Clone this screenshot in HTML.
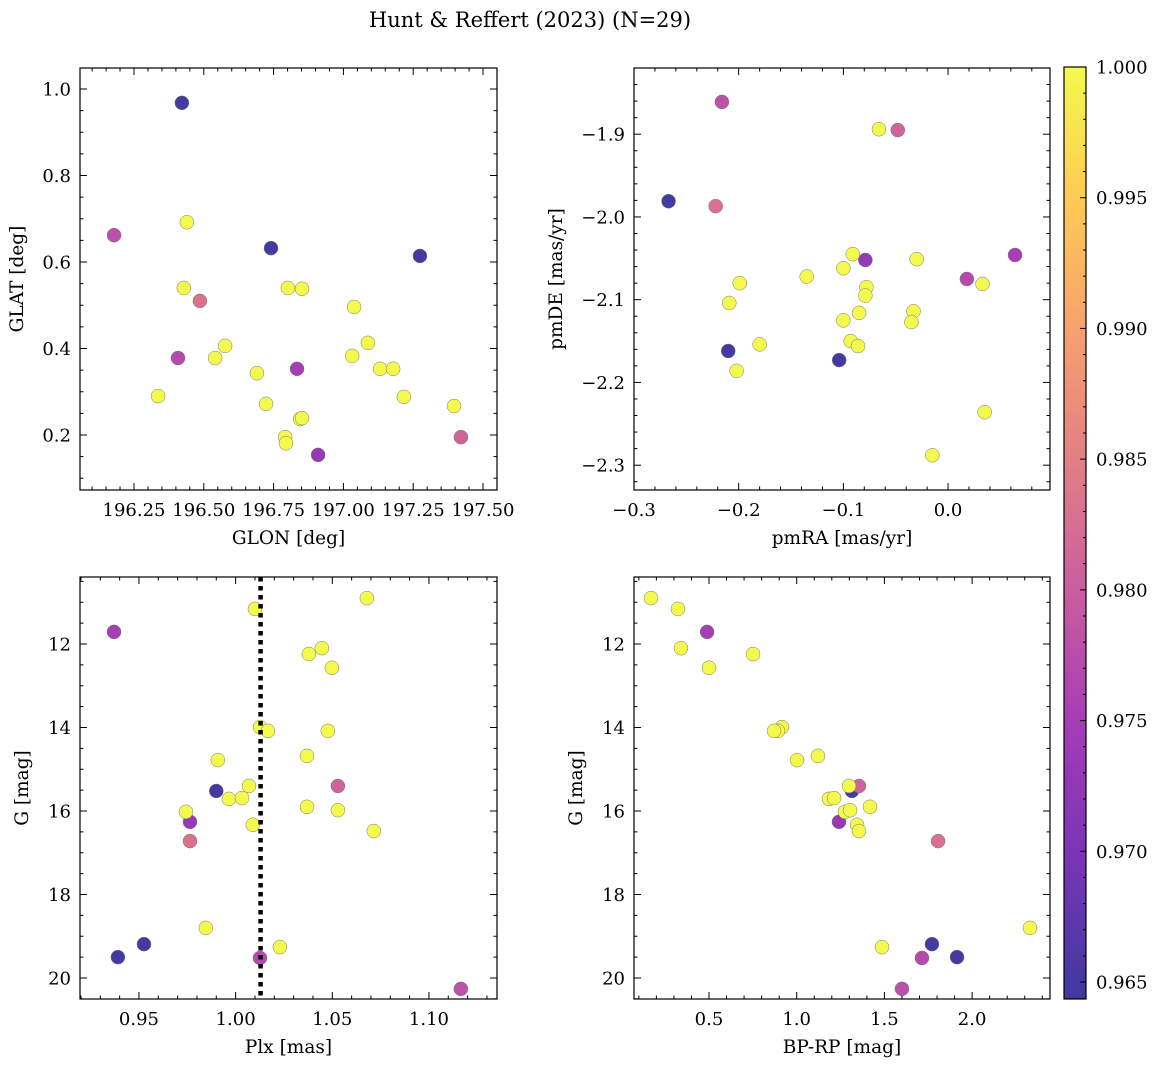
<!DOCTYPE html>
<html><head><meta charset="utf-8"><style>
body{margin:0;background:#fff;}
svg text{font-family:"DejaVu Serif","Liberation Serif",serif;fill:#000;}
</style></head><body>
<svg id="fig" width="1161" height="1067" viewBox="0 0 1161 1067" xmlns="http://www.w3.org/2000/svg">
<rect width="1161" height="1067" fill="#fff"/>
<text x="530" y="27" font-size="21" text-anchor="middle">Hunt &amp; Reffert (2023) (N=29)</text>
</svg>
<script>
const prob = [0.965,0.965,0.965,0.983,0.981,0.978,0.977,0.975,0.973,1,1,1,1,1,1,1,1,1,1,1,1,1,1,1,1,1,1,1,1];
const glon = [196.4215,196.7407,197.2741,196.486,197.4208,196.1786,196.4076,196.8339,196.9093,
196.4394,196.4285,196.8012,196.8518,197.0382,196.5405,196.5762,197.0312,197.0877,197.1314,197.178,196.6902,196.3363,196.7229,197.2166,197.3961,196.8448,196.8518,196.7913,196.7943];
const glat = [0.968,0.632,0.614,0.510,0.195,0.662,0.378,0.353,0.154,
0.692,0.540,0.540,0.538,0.496,0.378,0.406,0.383,0.413,0.353,0.353,0.343,0.290,0.272,0.288,0.267,0.237,0.239,0.195,0.181];
const pmra = [-0.267,-0.210,-0.104,-0.222,-0.048,-0.216,0.018,0.064,-0.079,
-0.066,-0.135,-0.209,-0.199,-0.091,-0.100,-0.030,0.033,-0.078,-0.079,-0.085,-0.100,-0.033,-0.035,-0.093,-0.086,-0.180,-0.202,0.035,-0.015];
const pmde = [-1.981,-2.162,-2.173,-1.987,-1.895,-1.861,-2.075,-2.046,-2.052,
-1.894,-2.072,-2.104,-2.080,-2.045,-2.062,-2.051,-2.081,-2.085,-2.095,-2.116,-2.125,-2.114,-2.127,-2.150,-2.156,-2.154,-2.186,-2.236,-2.288];
const plx = [0.990,0.9526,0.9391,0.9764,1.0529,1.1165,1.0126,0.9371,0.9764,
1.0679,1.0100,1.0446,1.0379,1.0498,1.0126,1.0167,1.0477,0.9908,1.0369,1.0069,0.9965,1.0033,1.0369,0.9743,1.0529,1.0089,1.0715,0.9846,1.0229];
const gmag = [15.52,19.19,19.50,16.72,15.40,20.26,19.52,11.71,16.26,
10.90,11.16,12.10,12.24,12.57,13.99,14.08,14.08,14.78,14.68,15.40,15.71,15.69,15.90,16.02,15.98,16.33,16.48,18.80,19.26];
const bprp = [1.315,1.771,1.914,1.806,1.355,1.600,1.714,0.489,1.241,
0.169,0.323,0.340,0.751,0.500,0.916,0.893,0.871,1.002,1.121,1.298,1.184,1.213,1.418,1.275,1.304,1.344,1.355,2.330,1.486];
const plxRef = 1.0129;
const cbTicks = [0.965,0.970,0.975,0.980,0.985,0.990,0.995,1.000];

const NS="http://www.w3.org/2000/svg";
const svg=document.getElementById('fig');
function mk(tag,attrs,parent){const e=document.createElementNS(NS,tag);for(const k in attrs)e.setAttribute(k,attrs[k]);(parent||svg).appendChild(e);return e;}
const stops=[[13,8,135],[84,2,163],[139,10,165],[185,50,137],[219,92,104],[244,136,73],[254,188,43],[240,249,33]];
function plasma(t){t=Math.max(0,Math.min(1,t));const s=t*(stops.length-1);const i=Math.min(stops.length-2,Math.floor(s));const f=s-i;
const c=stops[i].map((v,k)=>v+(stops[i+1][k]-v)*f).map(v=>Math.round(v*0.8+255*0.2));return `rgb(${c[0]},${c[1]},${c[2]})`;}
const cmin=0.96435,cmax=1.0;
function col(p){return plasma((p-cmin)/(cmax-cmin));}
const FS=18, LS=18.5;
function fmtMinus(s){return s.replace('-','\u2212');}

function panel(o){
  const g=mk('g',{});
  
  
  const X=v=>o.x0+(v-o.xmin)/(o.xmax-o.xmin)*(o.x1-o.x0);
  const Y=o.yinv?(v=>o.y0+(v-o.ymin)/(o.ymax-o.ymin)*(o.y1-o.y0)):(v=>o.y1-(v-o.ymin)/(o.ymax-o.ymin)*(o.y1-o.y0));
  const pts=mk('g',{},g);
  
  
  for(let i=0;i<o.xs.length;i++){
    const c=mk('circle',{cx:X(o.xs[i]),cy:Y(o.ys[i]),r:7,fill:col(prob[i]),stroke:'#777','stroke-width':0.5},pts);
    
    
  }
  if(o.vline!==undefined){const l=mk('line',{x1:X(o.vline),x2:X(o.vline),y1:o.y0,y2:o.y1,stroke:'#000','stroke-width':4.5,'stroke-dasharray':'4.5,4.5'},g);
    
    }
  mk('rect',{x:o.x0,y:o.y0,width:o.x1-o.x0,height:o.y1-o.y0,fill:'none',stroke:'#000','stroke-width':1.2},g);
  const tk=mk('g',{stroke:'#000','stroke-width':1},g);
  for(let k=Math.ceil(o.xmin/o.xminor-1e-9);k*o.xminor<=o.xmax+1e-9;k++){
    const v=k*o.xminor;const px=X(v);const major=Math.abs(v/o.xmajor-Math.round(v/o.xmajor))<1e-6;const L=major?7:3.5;
    mk('line',{x1:px,x2:px,y1:o.y1,y2:o.y1-L},tk);mk('line',{x1:px,x2:px,y1:o.y0,y2:o.y0+L},tk);
    if(major){const t=mk('text',{x:px,y:o.y1+26,'font-size':FS,'text-anchor':'middle'},g);t.textContent=fmtMinus(o.xfmt(v));
      }
  }
  for(let k=Math.ceil(o.ymin/o.yminor-1e-9);k*o.yminor<=o.ymax+1e-9;k++){
    const v=k*o.yminor;const py=Y(v);const major=Math.abs(v/o.ymajor-Math.round(v/o.ymajor))<1e-6;const L=major?7:3.5;
    mk('line',{x1:o.x0,x2:o.x0+L,y1:py,y2:py},tk);mk('line',{x1:o.x1,x2:o.x1-L,y1:py,y2:py},tk);
    if(major){const t=mk('text',{x:o.x0-9,y:py+6.5,'font-size':FS,'text-anchor':'end'},g);t.textContent=fmtMinus(o.yfmt(v));
      }
  }
  const xl=mk('text',{x:(o.x0+o.x1)/2,y:o.y1+54,'font-size':LS,'text-anchor':'middle'},g);xl.textContent=o.xlabel;
  
  const ly=(o.y0+o.y1)/2;const yl=mk('text',{x:o.ylx,y:ly,'font-size':LS,'text-anchor':'middle',transform:`rotate(-90 ${o.ylx} ${ly})`},g);yl.textContent=o.ylabel;
  
}
const f2=v=>v.toFixed(2),f1=v=>v.toFixed(1),f0=v=>Math.round(v).toString();
panel({name:'glon-glat-panel',x0:80,x1:497,y0:68,y1:490,xmin:196.0566,xmax:197.5501,ymin:0.0728,ymax:1.0486,xmajor:0.25,xminor:0.05,ymajor:0.2,yminor:0.05,xfmt:f2,yfmt:f1,xs:glon,ys:glat,xlabel:'GLON [deg]',ylabel:'GLAT [deg]',ylx:23});
panel({name:'pm-panel',x0:634,x1:1050,y0:68,y1:490,xmin:-0.300,xmax:0.0974,ymin:-2.330,ymax:-1.820,xmajor:0.1,xminor:0.02,ymajor:0.1,yminor:0.02,xfmt:f1,yfmt:f1,xs:pmra,ys:pmde,xlabel:'pmRA [mas/yr]',ylabel:'pmDE [mas/yr]',ylx:562});
panel({name:'plx-g-panel',x0:80,x1:497,y0:577,y1:999,xmin:0.9195,xmax:1.1352,ymin:10.395,ymax:20.503,yinv:true,xmajor:0.05,xminor:0.01,ymajor:2,yminor:0.5,xfmt:f2,yfmt:f0,xs:plx,ys:gmag,vline:plxRef,xlabel:'Plx [mas]',ylabel:'G [mag]',ylx:28});
panel({name:'cmd-panel',x0:634,x1:1050,y0:577,y1:999,xmin:0.0724,xmax:2.444,ymin:10.395,ymax:20.503,yinv:true,xmajor:0.5,xminor:0.1,ymajor:2,yminor:0.5,xfmt:f1,yfmt:f0,xs:bprp,ys:gmag,xlabel:'BP-RP [mag]',ylabel:'G [mag]',ylx:582});

const cb=mk('g',{});


const defs=mk('defs',{},cb);const lg=mk('linearGradient',{id:'cbg',x1:0,y1:1,x2:0,y2:0},defs);
for(let i=0;i<=20;i++)mk('stop',{offset:i/20,'stop-color':plasma(i/20)},lg);
const cx0=1064,cx1=1086,cy0=67,cy1=999;
mk('rect',{x:cx0,y:cy0,width:cx1-cx0,height:cy1-cy0,fill:'url(#cbg)',stroke:'#000','stroke-width':1.2},cb);
const CY=v=>cy1-(v-cmin)/(cmax-cmin)*(cy1-cy0);
for(let k=965;k<=1000;k++){const v=k/1000;const py=CY(v);const major=k%5===0;
  mk('line',{x1:cx1,x2:cx1-(major?6:3),y1:py,y2:py,stroke:'#000','stroke-width':1},cb);}
cbTicks.forEach(v=>{const t=mk('text',{x:1096,y:CY(v)+6.5,'font-size':FS},cb);t.textContent=v.toFixed(3);
  });
</script>
</body></html>
